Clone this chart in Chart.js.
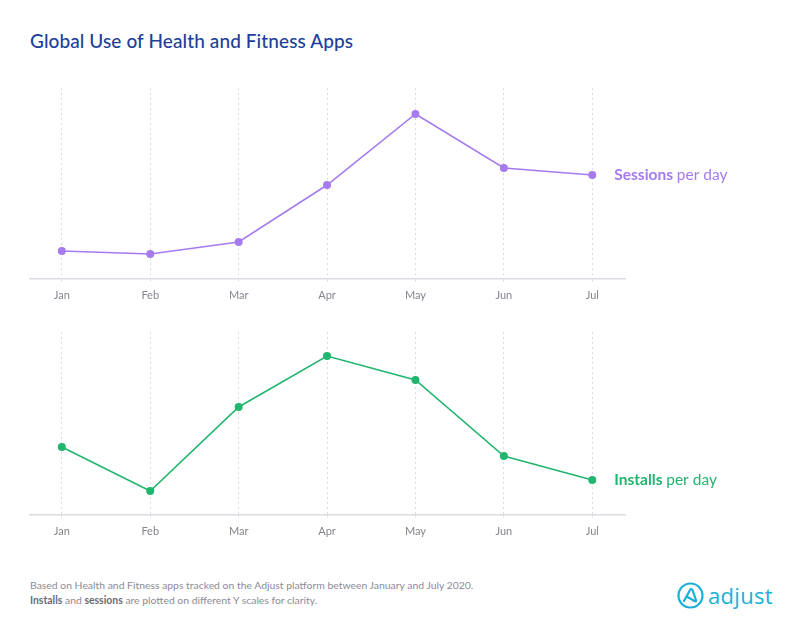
<!DOCTYPE html>
<html>
<head>
<meta charset="utf-8">
<script src="https://cdn.jsdelivr.net/npm/chart.js@4.4.1/dist/chart.umd.min.js"></script>
<style>
  html,body{margin:0;padding:0;background:#fff;}
  body{width:797px;height:631px;position:relative;overflow:hidden;font-family:Lato,"Open Sans",sans-serif;}
  #title{position:absolute;left:30px;top:29px;font-size:19px;color:#213f99;font-weight:500;letter-spacing:0.1px;}
  .wrap{position:absolute;left:0;width:797px;}
  #w1{top:80px;height:229px;}
  #w2{top:324px;height:221px;}
  #foot{position:absolute;left:30px;top:578px;font-size:10.4px;line-height:15px;color:#8b8b96;}
  #foot b{color:#6b6b78;font-weight:700;}
  #logo{position:absolute;left:677px;top:581px;height:28px;display:flex;align-items:center;}
  #logo span{font-size:22px;color:#1bb0d6;margin-left:4px;font-family:"Open Sans",sans-serif;letter-spacing:0.3px;line-height:28px;}
</style>
</head>
<body>
<div id="title">Global Use of Health and Fitness Apps</div>
<div class="wrap" id="w1"><canvas id="c1"></canvas></div>
<div class="wrap" id="w2"><canvas id="c2"></canvas></div>
<div id="foot">Based on Health and Fitness apps tracked on the Adjust platform between January and July 2020.<br><b>Installs</b> and <b>sessions</b> are plotted on different Y scales for clarity.</div>
<div id="logo">
  <svg width="27" height="27" viewBox="0 0 27 27">
    <circle cx="13.5" cy="13.5" r="12" fill="none" stroke="#1bb0d6" stroke-width="2.2"/>
    <path d="M7 19 L13 8 Q14.5 6 15.5 8 L19 18 Q19.5 20 17.5 19 L10.5 15" fill="none" stroke="#1bb0d6" stroke-width="2.2" stroke-linejoin="round" stroke-linecap="round"/>
  </svg>
  <span>adjust</span>
</div>
<script>
const months = ["Jan","Feb","Mar","Apr","May","Jun","Jul"];
// relative index values (Y scales hidden)
const sessions = [28, 25, 37, 94, 165, 111, 104];
const installs = [68, 24, 108, 159, 135, 59, 35];
const sessionsColor = "#a67bef";
const installsColor = "#21b56f";

const endLabel = {
  id: 'endLabel',
  afterDatasetsDraw(chart, args, opts) {
    const meta = chart.getDatasetMeta(0);
    const pt = meta.data[meta.data.length - 1];
    const ctx = chart.ctx;
    ctx.save();
    ctx.textBaseline = 'middle';
    ctx.fillStyle = opts.color;
    let x = pt.x + 22;
    ctx.font = 'bold 15.5px Lato, sans-serif';
    ctx.fillText(opts.bold, x, pt.y);
    x += ctx.measureText(opts.bold + ' ').width;
    ctx.font = '15.5px Lato, sans-serif';
    ctx.fillText(opts.rest, x, pt.y);
    ctx.restore();
  }
};

function makeChart(id, values, color, ymax, boldTxt) {
  return new Chart(document.getElementById(id), {
    type: 'line',
    data: {
      datasets: [{
        data: values.map((v, i) => ({x: i, y: v})),
        borderColor: color,
        backgroundColor: color,
        borderWidth: 1.6,
        pointRadius: 4,
        pointHoverRadius: 4,
        pointBorderWidth: 0,
        tension: 0
      }]
    },
    options: {
      responsive: true,
      maintainAspectRatio: false,
      animation: false,
      events: [],
      layout: {padding: {left: 30, right: 172, top: 8, bottom: 0}},
      plugins: {
        legend: {display: false},
        tooltip: {enabled: false},
        endLabel: {color: color, bold: boldTxt, rest: 'per day'}
      },
      scales: {
        x: {
          type: 'linear',
          min: -0.36,
          max: 6.37,
          afterBuildTicks: (s) => { s.ticks = months.map((m, i) => ({value: i})); },
          afterFit: (s) => { s.height = 30; },
          ticks: {
            callback: (v) => months[v],
            color: '#85858f',
            font: {family: 'Lato, sans-serif', size: 11},
            padding: 6,
            maxRotation: 0,
            autoSkip: false
          },
          grid: {
            color: '#dcdce6',
            lineWidth: 1,
            drawTicks: true,
            tickLength: 4,
            tickBorderDash: [2, 3],
            tickColor: '#dcdce6'
          },
          border: {display: true, color: '#dcdce3', width: 1.5, dash: [2, 3]}
        },
        y: {display: false, min: 0, max: ymax}
      }
    },
    plugins: [endLabel]
  });
}

Chart.defaults.font.family = 'Lato, sans-serif';
makeChart('c1', sessions, sessionsColor, 191, 'Sessions');
makeChart('c2', installs, installsColor, 183, 'Installs');
</script>
</body>
</html>
